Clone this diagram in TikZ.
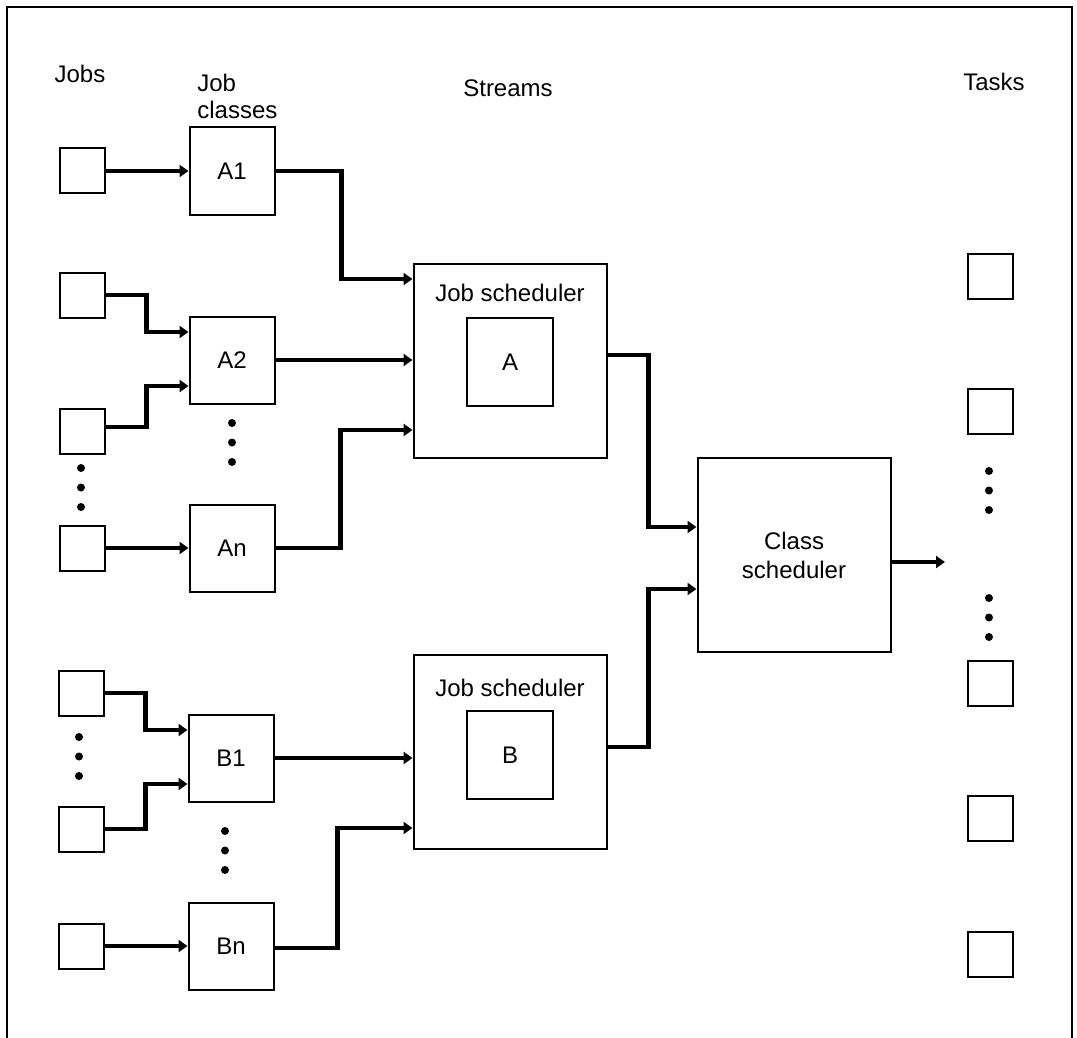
\documentclass[tikz,border=0pt]{standalone}
\usepackage{fontspec}
\setmainfont{Liberation Sans}
\usepackage{tikz}
\usetikzlibrary{arrows.meta, positioning, calc}
\tikzstyle{jobbox} = [rectangle, draw=black, line width=1pt, minimum width=22.5pt, minimum height=22.5pt, inner sep=0pt]
\tikzstyle{classbox} = [rectangle, draw=black, line width=1pt, minimum width=42.5pt, minimum height=43.5pt, inner sep=0pt, font=\fontsize{12}{14}\selectfont]
\tikzstyle{schedbox} = [rectangle, draw=black, line width=1pt, minimum width=96.5pt, minimum height=97pt, inner sep=0pt, align=center, font=\fontsize{12}{14.5}\selectfont]
\tikzstyle{innerbox} = [rectangle, draw=black, line width=1pt, minimum width=43pt, minimum height=44pt, inner sep=0pt, font=\fontsize{12}{14}\selectfont]
\tikzstyle{heading} = [inner sep=0pt, align=left, font=\fontsize{12}{13.5}\selectfont]
\tikzstyle{flow} = [draw, -{Triangle[length=4.5pt, width=6pt]}, line width=2.2pt]

\begin{document}
\begin{tikzpicture}[x=0.5pt, y=-0.5pt]
    \useasboundingbox (0,0) rectangle (1077,1038);
    % Frame
    \draw[line width=1pt] (7,1038) -- (7,7) -- (1072,7) -- (1072,1038);

    % Headings
    \node (hjobs) [heading] at (80,74) {Jobs};
    \node (hclasses) [heading, anchor=west] at (197,96) {Job\\classes};
    \node (hstreams) [heading] at (508,88) {Streams};
    \node (htasks) [heading] at (994,82) {Tasks};

    % Jobs
    \node (j1) [jobbox] at (82,171) {};
    \node (j2) [jobbox] at (82,295) {};
    \node (j3) [jobbox] at (82,431) {};
    \node (j4) [jobbox] at (82,548) {};
    \node (j5) [jobbox] at (81,693) {};
    \node (j6) [jobbox] at (81,829) {};
    \node (j7) [jobbox] at (81,946) {};

    % Job classes
    \node (a1) [classbox] at (232,171) {A1};
    \node (a2) [classbox] at (232,360) {A2};
    \node (an) [classbox] at (232,548) {An};
    \node (b1) [classbox] at (231,758) {B1};
    \node (bn) [classbox] at (231,946) {Bn};

    % Schedulers
    \node (sa) [schedbox] at (510,361) {};
    \node (ia) [innerbox] at (510,362) {A};
    \node (lsa) [heading] at (510,293) {Job scheduler};
    \node (sb) [schedbox] at (510,752) {};
    \node (ib) [innerbox] at (510,755) {B};
    \node (lsb) [heading] at (510,688) {Job scheduler};
    \node (cs) [schedbox] at (794,555) {Class\\scheduler};

    % Tasks
    \node (t1) [jobbox] at (990,276) {};
    \node (t2) [jobbox] at (990,411) {};
    \node (t3) [jobbox] at (990,683) {};
    \node (t4) [jobbox] at (990,818) {};
    \node (t5) [jobbox] at (990,954) {};
    \coordinate (out) at (945,562);

    % Dots
    \foreach \x/\y in {81/468, 79/737, 232/423, 225/831, 989/471, 989/598}
        \foreach \d in {0,19.5,39}
            \fill (\x,\y+\d) circle [radius=2pt];

    % Paths
    \draw [flow] (j1) -- (a1);
    \draw [flow] (a1.east) -- ++(66,0) |- ([yshift=41pt]sa.west);
    \draw [flow] (j2.east) -- ++(41,0) |- ([yshift=14pt]a2.west);
    \draw [flow] ([yshift=2pt]j3.east) -- ++(41,0) |- ([yshift=-13pt]a2.west);
    \draw [flow] (a2.east) -- (a2.east -| sa.west);
    \draw [flow] (j4) -- (an);
    \draw [flow] (an.east) -- ++(65,0) |- ([yshift=-34.5pt]sa.west);
    \draw [flow] ([yshift=3pt]sa.east) -- ++(41,0) |- ([yshift=14pt]cs.west);
    \draw [flow] ([yshift=2.5pt]sb.east) -- ++(41,0) |- ([yshift=-17pt]cs.west);
    \draw [flow] ([yshift=-3.5pt]cs.east) -- (out);
    \draw [flow] (j5.east) -- ++(41,0) |- ([yshift=14pt]b1.west);
    \draw [flow] (j6.east) -- ++(41,0) |- ([yshift=-13pt]b1.west);
    \draw [flow] (b1.east) -- (b1.east -| sb.west);
    \draw [flow] ([yshift=-1pt]bn.east) -- ++(63,0) |- ([yshift=-38pt]sb.west);
    \draw [flow] (j7) -- (bn);
\end{tikzpicture}
\end{document}
